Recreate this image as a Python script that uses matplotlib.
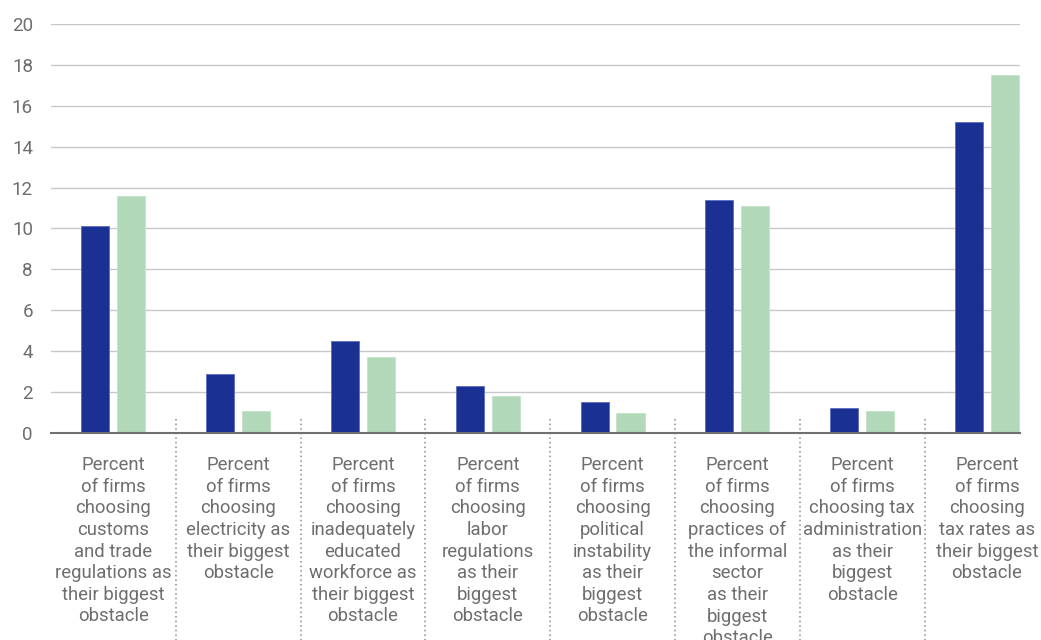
import matplotlib
matplotlib.use("Agg")
import matplotlib.pyplot as plt
import matplotlib.transforms as mtransforms
import numpy as np

plt.rcParams['font.family'] = ['Roboto', 'DejaVu Sans']

categories = [
    "Percent\nof firms\nchoosing\ncustoms\nand trade\nregulations as\ntheir biggest\nobstacle",
    "Percent\nof firms\nchoosing\nelectricity as\ntheir biggest\nobstacle",
    "Percent\nof firms\nchoosing\ninadequately\neducated\nworkforce as\ntheir biggest\nobstacle",
    "Percent\nof firms\nchoosing\nlabor\nregulations\nas their\nbiggest\nobstacle",
    "Percent\nof firms\nchoosing\npolitical\ninstability\nas their\nbiggest\nobstacle",
    "Percent\nof firms\nchoosing\npractices of\nthe informal\nsector\nas their\nbiggest\nobstacle",
    "Percent\nof firms\nchoosing tax\nadministration\nas their\nbiggest\nobstacle",
    "Percent\nof firms\nchoosing\ntax rates as\ntheir biggest\nobstacle",
]
series_a = [10.1, 2.9, 4.5, 2.3, 1.5, 11.4, 1.2, 15.2]
series_b = [11.6, 1.1, 3.7, 1.8, 1.0, 11.1, 1.1, 17.5]
yticks = [0, 2, 4, 6, 8, 10, 12, 14, 16, 18, 20]

BLUE = "#1a3193"
GREEN = "#b1d8b9"
TEXT = "#6e6e6e"

fig = plt.figure(figsize=(10.41, 6.40), dpi=100)
W, H = 1041, 640
left, right, top, bottom = 51, 1020, 24, 433
ax = fig.add_axes([left / W, 1 - bottom / H, (right - left) / W, (bottom - top) / H])

x = np.arange(len(categories))
bw = 0.225
off = 0.144
ax.bar(x - off, series_a, width=bw, color=BLUE, edgecolor="#5a6cc0", linewidth=0.6, zorder=3)
ax.bar(x + off, series_b, width=bw, color=GREEN, edgecolor="#c4e2ca", linewidth=0.6, zorder=3)

ax.set_xlim(-0.5, 7.265)
ax.set_ylim(0, 20)
ax.set_yticks(yticks)
ax.set_yticklabels([str(v) for v in yticks], fontsize=13.5, color=TEXT)
ax.tick_params(axis='y', length=0, pad=13)
ax.set_xticks([])
ax.grid(axis='y', color="#c8c8c8", linewidth=1.0, zorder=0)
for s in ["top", "right", "left"]:
    ax.spines[s].set_visible(False)
ax.spines["bottom"].set_color("#707070")
ax.spines["bottom"].set_linewidth(1.5)
ax.spines["bottom"].set_zorder(4)

# dotted separators between category groups, running down through the labels
trans = mtransforms.blended_transform_factory(ax.transData, ax.transAxes)
y_top = 0.7 / 20
y_bot = -(H - bottom) / (bottom - top) - 0.01
for b in x[:-1] + 0.5:
    ax.plot([b, b], [y_top, y_bot], transform=trans, color="#8a8a8a",
            linestyle=(0, (1.0, 2.0)), linewidth=1.1, clip_on=False, zorder=2)

# category labels below the axis
label_y = -(456 - bottom) / (bottom - top)
for xi, lab in zip(x, categories):
    ax.text(xi, label_y, lab, transform=trans, ha="center", va="top",
            fontsize=13.3, color=TEXT, linespacing=1.26)

fig.savefig("out.png", dpi=100)
